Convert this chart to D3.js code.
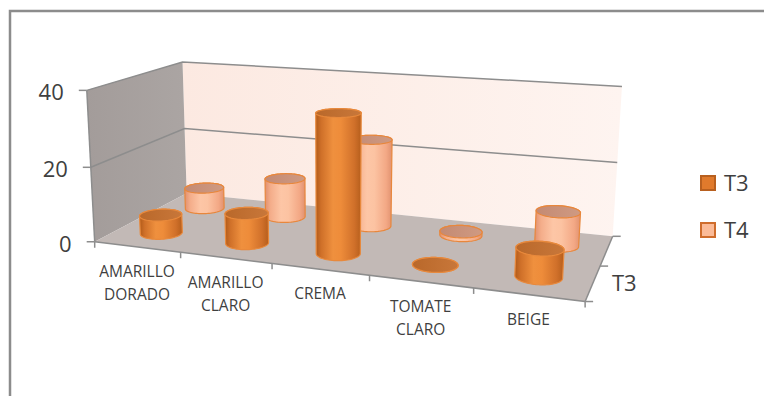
<!DOCTYPE html>
<html><head><meta charset="utf-8">
<script src="https://cdn.jsdelivr.net/npm/d3@7"></script>
<style>
html,body{margin:0;padding:0;background:#fff;}
svg{display:block;}
text{font-family:"Open Sans","Noto Sans",sans-serif;fill:#3f3f3f;}
</style></head><body>
<svg id="chart" width="764" height="396"></svg>
<script>
// ---- data ----
const categories = ["AMARILLO DORADO", "AMARILLO CLARO", "CREMA", "TOMATE CLARO", "BEIGE"];
const categoryLines = [["AMARILLO", "DORADO"], ["AMARILLO", "CLARO"], ["CREMA"], ["TOMATE", "CLARO"], ["BEIGE"]];
const seriesNames = ["T3", "T4"];
const t3Values = [5, 8, 36, 0, 7];
const t4Values = [6, 11, 24, 1, 9];
const valueTicks = [0, 20, 40];
const depthLabels = ["T3"];

const seriesValues = { T3: t3Values, T4: t4Values };

const svg = d3.select("#chart");
const defs = svg.append("defs");

// ---- 3D box scales (category units along X, value along Y, series along Z) ----
const xBand = d3.scaleBand().domain(categories).range([0, 5]).paddingInner(0).paddingOuter(0);
const zBand = d3.scaleBand().domain(seriesNames).range([0, 2]);
const yScale = d3.scaleLinear().domain([0, 40]).range([0, 4]);
const X1 = 5, Y1 = 4, Z1 = 2;

// ---- perspective camera, fitted to the frame of the plot box ----
const boxFrame = [
  [[0, 0, 0], [97, 239]], [[1, 0, 0], [182, 254]], [[2, 0, 0], [272, 266]],
  [[3, 0, 0], [368, 278]], [[4, 0, 0], [472, 289]], [[5, 0, 0], [584, 300]],
  [[5, 0, 1], [604, 264]], [[5, 0, 2], [612, 234]], [[0, 0, 2], [185, 194]],
  [[0, 4, 0], [87, 89]], [[0, 2, 0], [89, 166]], [[0, 4, 2], [183, 62]],
  [[0, 2, 2], [185, 129]], [[5, 4, 2], [622, 88]], [[5, 2, 2], [617, 163]]
];
const C0 = 350, C1 = 200, CS = 100;
function fitCamera(pairs) {
  const n = 11, rows = [], rhs = [];
  for (const [[X, Y, Z], [u0, v0]] of pairs) {
    const u = (u0 - C0) / CS, v = (v0 - C1) / CS;
    rows.push([X, Y, Z, 1, 0, 0, 0, 0, -u * X, -u * Y, -u * Z]); rhs.push(u);
    rows.push([0, 0, 0, 0, X, Y, Z, 1, -v * X, -v * Y, -v * Z]); rhs.push(v);
  }
  const M = Array.from({ length: n }, () => new Array(n + 1).fill(0));
  rows.forEach((r, k) => {
    for (let i = 0; i < n; i++) {
      for (let j = 0; j < n; j++) M[i][j] += r[i] * r[j];
      M[i][n] += r[i] * rhs[k];
    }
  });
  for (let c = 0; c < n; c++) {
    let piv = c;
    for (let r = c + 1; r < n; r++) if (Math.abs(M[r][c]) > Math.abs(M[piv][c])) piv = r;
    [M[c], M[piv]] = [M[piv], M[c]];
    for (let r = 0; r < n; r++) {
      if (r === c) continue;
      const f = M[r][c] / M[c][c];
      for (let j = c; j <= n; j++) M[r][j] -= f * M[c][j];
    }
  }
  return M.map((row, i) => row[n] / row[i]);
}
const P = fitCamera(boxFrame);
function project(X, Y, Z) {
  const w = P[8] * X + P[9] * Y + P[10] * Z + 1;
  return [C0 + CS * (P[0] * X + P[1] * Y + P[2] * Z + P[3]) / w,
          C1 + CS * (P[4] * X + P[5] * Y + P[6] * Z + P[7]) / w];
}
const line = d3.line();
const poly = pts => line(pts) + "Z";

// ---- gradients ----
function linGrad(id, stops, vertical) {
  const g = defs.append("linearGradient").attr("id", id)
    .attr("x1", 0).attr("y1", 0).attr("x2", vertical ? 0 : 1).attr("y2", vertical ? 1 : 0);
  stops.forEach(([o, c]) => g.append("stop").attr("offset", o).attr("stop-color", c));
}
linGrad("backWall", [[0, "#fce9e1"], [1, "#fef4f0"]]);
linGrad("leftWall", [[0, "#a39c9a"], [1, "#aba5a3"]]);
linGrad("bodyT3", [[0, "#b05a19"], [0.12, "#cf7029"], [0.38, "#ef903e"], [0.55, "#ee8c3a"], [0.85, "#d0702a"], [1, "#b55e1c"]]);
linGrad("bodyT4", [[0, "#e0906f"], [0.14, "#f4ad8a"], [0.4, "#fdc6a6"], [0.58, "#fcc3a2"], [0.86, "#f3a885"], [1, "#e0916f"]]);
linGrad("capT3", [[0, "#b9682a"], [1, "#c8773a"]]);
linGrad("capT4", [[0, "#c48a73"], [1, "#cf9a82"]]);
const seriesStyle = {
  T3: { body: "url(#bodyT3)", cap: "url(#capT3)", stroke: "#e8893c", legend: "#e07a2c", legendStroke: "#b8601f" },
  T4: { body: "url(#bodyT4)", cap: "url(#capT4)", stroke: "#e8873c", legend: "#fbbb98", legendStroke: "#cf6d2d" }
};

// ---- chart area border ----
svg.append("rect").attr("x", 10).attr("y", 11).attr("width", 800).attr("height", 500)
  .attr("fill", "none").attr("stroke", "#8c8c8c").attr("stroke-width", 2.5);

// ---- walls and floor ----
svg.append("path").attr("d", poly([project(0, 0, Z1), project(X1, 0, Z1), project(X1, Y1, Z1), project(0, Y1, Z1)]))
  .attr("fill", "url(#backWall)");
svg.append("path").attr("d", poly([project(0, 0, 0), project(0, 0, Z1), project(0, Y1, Z1), project(0, Y1, 0)]))
  .attr("fill", "url(#leftWall)");
svg.append("path").attr("d", poly([project(0, 0, 0), project(X1, 0, 0), project(X1, 0, Z1), project(0, 0, Z1)]))
  .attr("fill", "#c2b9b6");

// ---- gridlines ----
valueTicks.filter(v => v > 0).forEach(v => {
  const y = yScale(v);
  svg.append("path").attr("d", line([project(0, y, 0), project(0, y, Z1), project(X1, y, Z1)]))
    .attr("fill", "none").attr("stroke", "#8d8d8d").attr("stroke-width", 1.5);
});

// ---- axes ----
const axisStroke = { stroke: "#8d8d8d", "stroke-width": 1.5, fill: "none" };
function axisPath(pts) {
  const p = svg.append("path").attr("d", line(pts));
  Object.entries(axisStroke).forEach(([k, v]) => p.attr(k, v));
  return p;
}
axisPath([project(0, 0, 0), project(0, Y1, 0)]);
axisPath([project(0, 0, 0), project(X1, 0, 0)]);
axisPath([project(X1, 0, 0), project(X1, 0, Z1)]);

// value ticks + labels
valueTicks.forEach(v => {
  const [px, py] = project(0, yScale(v), 0);
  axisPath([[px - 8, py], [px, py]]);
  svg.append("text").attr("x", px - 23).attr("y", py + 2).attr("dy", "0.36em")
    .attr("text-anchor", "end").attr("font-size", 22).text(v);
});

// category ticks + labels
d3.range(categories.length + 1).forEach(i => {
  const [px, py] = project(i, 0, 0);
  axisPath([[px, py], [px, py + 6]]);
});
categories.forEach((c, i) => {
  const [px, py] = project(xBand(c) + xBand.bandwidth() / 2, 0, 0);
  const t = svg.append("text").attr("text-anchor", "middle").attr("font-size", 15.5);
  categoryLines[i].forEach((ln, k) => {
    t.append("tspan").attr("x", px).attr("y", py + 24.5 + k * 23).attr("dy", "0.36em").text(ln);
  });
});

// depth ticks + label
d3.range(seriesNames.length + 1).forEach(k => {
  const [px, py] = project(X1, 0, k);
  axisPath([[px, py], [px + 8, py]]);
});
depthLabels.forEach(s => {
  const [px, py] = project(X1, 0, zBand(s) + zBand.bandwidth() / 2);
  svg.append("text").attr("x", px + 19).attr("y", py).attr("dy", "0.36em")
    .attr("font-size", 22).text(s);
});

// ---- cylinders (back row first) ----
const radius = 0.22, N = 72;
[...seriesNames].reverse().forEach(s => {
  const st = seriesStyle[s];
  const zc = zBand(s) + zBand.bandwidth() / 2;
  categories.forEach((c, i) => {
    const xc = xBand(c) + xBand.bandwidth() / 2;
    const h = yScale(seriesValues[s][i]);
    const ring = y => d3.range(N).map(k => {
      const a = 2 * Math.PI * k / N;
      return project(xc + radius * Math.cos(a), y, zc + radius * Math.sin(a));
    });
    const bottom = ring(0), top = ring(h);
    const hull = d3.polygonHull(bottom.concat(top));
    const g = svg.append("g");
    g.append("path").attr("d", poly(hull)).attr("fill", st.body)
      .attr("stroke", st.stroke).attr("stroke-width", 1.2);
    g.append("path").attr("d", poly(top)).attr("fill", st.cap)
      .attr("stroke", st.stroke).attr("stroke-width", 1.2);
  });
});

// ---- legend ----
const legend = svg.append("g");
seriesNames.forEach((s, k) => {
  const y = 176 + k * 47;
  legend.append("rect").attr("x", 701).attr("y", y).attr("width", 14).attr("height", 14)
    .attr("fill", seriesStyle[s].legend).attr("stroke", seriesStyle[s].legendStroke).attr("stroke-width", 2);
  legend.append("text").attr("x", 724).attr("y", y + 7).attr("dy", "0.36em")
    .attr("font-size", 22).text(s);
});
</script>
</body></html>
